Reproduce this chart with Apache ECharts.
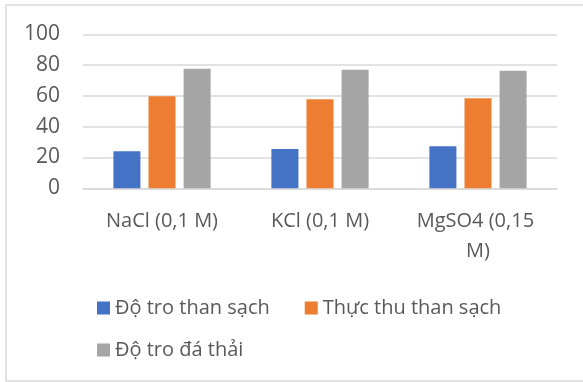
<!DOCTYPE html>
<html>
<head>
<meta charset="utf-8">
<script src="https://cdn.jsdelivr.net/npm/echarts@6/dist/echarts.min.js"></script>
<style>
  html, body { margin: 0; padding: 0; background: #fff; }
  #chart { width: 583px; height: 382px; }
</style>
</head>
<body>
<div id="chart"></div>
<script>
// Categories (salt solutions) and the three measured series
const categories = ['NaCl (0,1 M)', 'KCl (0,1 M)', 'MgSO4 (0,15 M)'];
const seriesNames = ['Độ tro than sạch', 'Thực thu than sạch', 'Độ tro đá thải'];
const doTroThanSach = [24.0, 25.5, 27.3];
const thucThuThanSach = [59.7, 57.8, 58.4];
const doTroDaThai = [77.7, 77.0, 76.4];
const yTicks = [0, 20, 40, 60, 80, 100];

const FONT = 'Open Sans';
const TEXT = '#595959';
const GRID = '#d9d9d9';
const colors = ['#4472C4', '#ED7D31', '#A5A5A5'];
const values = [doTroThanSach, thucThuThanSach, doTroDaThai];

const chart = echarts.init(document.getElementById('chart'), null, { renderer: 'canvas' });

const legendText = { color: TEXT, fontFamily: FONT, fontSize: 20, lineHeight: 22 };

chart.setOption({
  animation: false,
  backgroundColor: '#ffffff',
  textStyle: { fontFamily: FONT },
  graphic: [{
    type: 'rect',
    shape: { x: 6, y: 5, width: 600, height: 376 },
    style: { fill: 'none', stroke: GRID, lineWidth: 1.5 },
    silent: true,
    z: -1
  }],
  grid: { left: 83, right: 26, top: 34.3, bottom: 382 - 188.3, containLabel: false },
  legend: [
    {
      data: seriesNames.slice(0, 2),
      left: 92, top: 292,
      orient: 'horizontal',
      icon: 'rect', itemWidth: 13, itemHeight: 13, itemGap: 35,
      textStyle: legendText
    },
    {
      data: seriesNames.slice(2),
      left: 92, top: 334,
      orient: 'horizontal',
      icon: 'rect', itemWidth: 13, itemHeight: 13,
      textStyle: legendText
    }
  ],
  xAxis: {
    type: 'category',
    data: categories,
    axisLine: { show: true, lineStyle: { color: GRID, width: 1.5 } },
    axisTick: { show: false },
    axisLabel: {
      color: TEXT, fontFamily: FONT, fontSize: 20, lineHeight: 30,
      margin: 18, interval: 0, width: 134, overflow: 'break', align: 'center'
    }
  },
  yAxis: {
    type: 'value',
    min: yTicks[0], max: yTicks[yTicks.length - 1], interval: 20,
    axisLine: { show: false },
    axisTick: { show: false },
    splitLine: { lineStyle: { color: GRID, width: 1.5 } },
    axisLabel: { color: TEXT, fontFamily: FONT, fontSize: 21, margin: 23 }
  },
  series: seriesNames.map((name, i) => ({
    name: name,
    type: 'bar',
    data: values[i],
    barWidth: 27,
    barGap: '30%',
    itemStyle: { color: colors[i] }
  }))
});
</script>
</body>
</html>
